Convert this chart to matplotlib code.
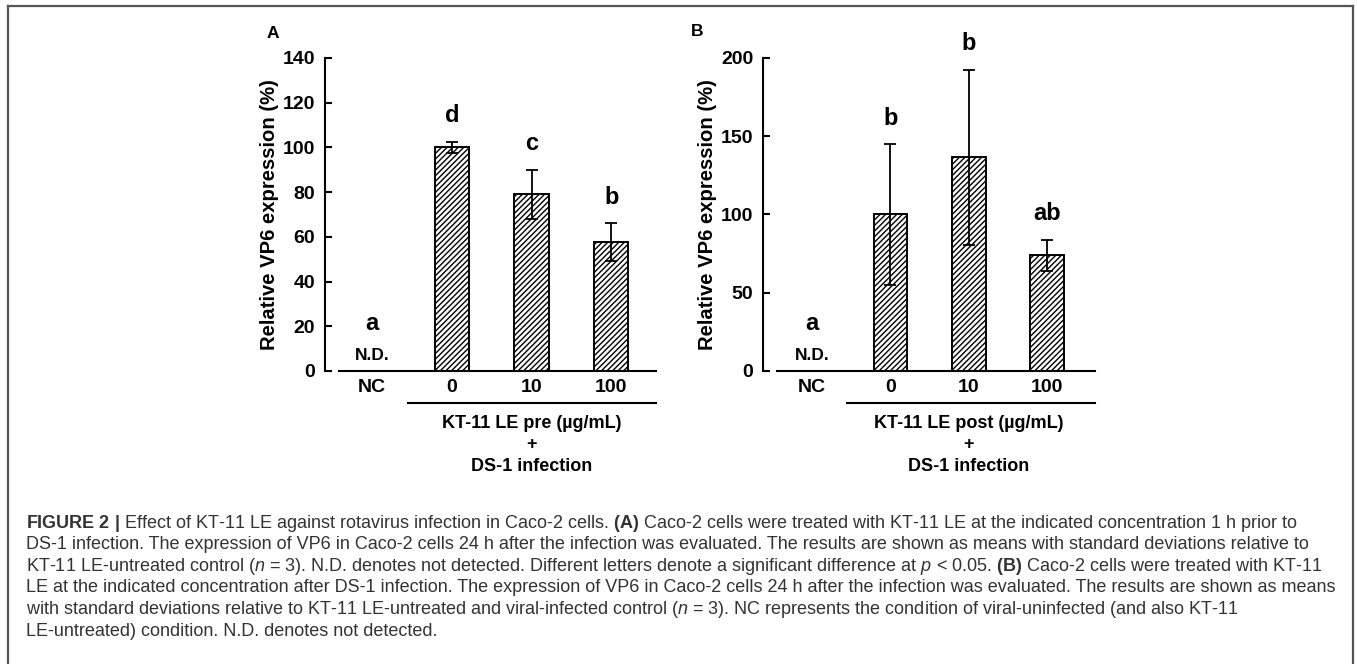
import matplotlib
matplotlib.use("Agg")
import matplotlib.pyplot as plt
from matplotlib.lines import Line2D
from matplotlib.transforms import blended_transform_factory
import numpy as np

plt.rcParams["font.family"] = ["Liberation Sans", "DejaVu Sans"]
plt.rcParams["mathtext.fontset"] = "custom"
plt.rcParams["mathtext.rm"] = "Liberation Sans"
plt.rcParams["mathtext.bf"] = "Liberation Sans:bold"
plt.rcParams["mathtext.it"] = "Liberation Sans:italic"
plt.rcParams["hatch.linewidth"] = 1.0

categories = ["NC", "0", "10", "100"]

# panel A: KT-11 LE before infection
pre_mean = [0, 100, 79, 57.5]
pre_sd = [0, 2.6, 11, 8.5]
pre_letters = ["a", "d", "c", "b"]

# panel B: KT-11 LE after infection
post_mean = [0, 100, 136.5, 74]
post_sd = [0, 45, 56, 10]
post_letters = ["a", "b", "b", "ab"]

caption_lines = [
    r"$\mathbf{FIGURE\ 2\ |}$ Effect of KT-11 LE against rotavirus infection in Caco-2 cells. "
    r"$\mathbf{(A)}$ Caco-2 cells were treated with KT-11 LE at the indicated concentration 1 h prior to",
    "DS-1 infection. The expression of VP6 in Caco-2 cells 24 h after the infection was evaluated. "
    "The results are shown as means with standard deviations relative to",
    r"KT-11 LE-untreated control ($\mathit{n}$ = 3). N.D. denotes not detected. Different letters "
    r"denote a significant difference at $\mathit{p}$ < 0.05. $\mathbf{(B)}$ Caco-2 cells were treated with KT-11",
    "LE at the indicated concentration after DS-1 infection. The expression of VP6 in Caco-2 cells "
    "24 h after the infection was evaluated. The results are shown as means",
    r"with standard deviations relative to KT-11 LE-untreated and viral-infected control ($\mathit{n}$ = 3). "
    "NC represents the condition of viral-uninfected (and also KT-11",
    "LE-untreated) condition. N.D. denotes not detected.",
]

W, H = 1357, 664
fig = plt.figure(figsize=(W / 100, H / 100), dpi=100)


def px_box(x0, x1, y_top, y_bot):
    return [x0 / W, 1 - y_bot / H, (x1 - x0) / W, (y_bot - y_top) / H]


def panel(box, means, sds, letters, ymax, ystep, xlim, xaxis_start, group_text, tag, tag_xy):
    ax = fig.add_axes(box)
    x = np.arange(len(categories))
    ax.bar(x[1:], means[1:], width=0.43, color="white", edgecolor="black",
           hatch="//////", linewidth=1.4, zorder=2)
    ax.errorbar(x[1:], means[1:], yerr=sds[1:], fmt="none", ecolor="black",
                elinewidth=1.3, capsize=4.5, capthick=1.3, zorder=3)
    ax.set_xlim(*xlim)
    ax.set_ylim(0, ymax)
    ax.set_yticks(np.arange(0, ymax + 1, ystep))
    ax.set_xticks(x)
    ax.set_xticklabels(categories)
    for s in ("top", "right"):
        ax.spines[s].set_visible(False)
    ax.spines["left"].set_linewidth(1.5)
    ax.spines["bottom"].set_linewidth(1.5)
    ax.spines["bottom"].set_bounds(xaxis_start, xlim[1])
    ax.tick_params(axis="y", direction="in", length=5, width=1.5, pad=7, labelsize=14)
    ax.tick_params(axis="x", length=0, pad=6, labelsize=14)
    for lbl in ax.get_xticklabels() + ax.get_yticklabels():
        lbl.set_fontweight("bold")
    ax.set_ylabel("Relative VP6 expression (%)", fontsize=14.6, fontweight="bold")
    ax.yaxis.set_label_coords(-0.14, 0.5)

    for xi, m, s, lab in zip(x, means, sds, letters):
        if m == 0:
            ax.annotate("N.D.", (xi, 0), xytext=(0, 8), textcoords="offset points",
                        ha="center", va="baseline", fontsize=12.5, fontweight="bold")
            ax.annotate(lab, (xi, 0), xytext=(0, 29.5), textcoords="offset points",
                        ha="center", va="baseline", fontsize=17, fontweight="bold")
        else:
            ax.annotate(lab, (xi, m + s), xytext=(0, 14), textcoords="offset points",
                        ha="center", va="baseline", fontsize=17, fontweight="bold")

    tr = blended_transform_factory(ax.transData, ax.transAxes)
    ax.add_line(Line2D([0.45, xlim[1]], [-0.103, -0.103], transform=tr,
                       color="black", linewidth=1.5, clip_on=False))
    ax.text(2, -0.235, group_text + "\n+\nDS-1 infection", transform=tr,
            ha="center", va="center", multialignment="center",
            fontsize=13, fontweight="bold", linespacing=1.35)
    fig.text(tag_xy[0] / W, 1 - tag_xy[1] / H, tag, ha="center", va="center",
             fontsize=12.5, fontweight="bold")
    return ax


panel(px_box(325, 656, 58, 371), pre_mean, pre_sd, pre_letters, 140, 20,
      (-0.59, 3.56), -0.42, "KT-11 LE pre (µg/mL)", "A", (273, 33))
panel(px_box(763, 1095, 58, 371), post_mean, post_sd, post_letters, 200, 50,
      (-0.626, 3.61), -0.447, "KT-11 LE post (µg/mL)", "B", (697, 32))

# frame of the figure page
frame_kw = dict(color="#555555", linewidth=1.6, transform=fig.transFigure)
fig.add_artist(Line2D([8 / W, 1353 / W], [1 - 6 / H, 1 - 6 / H], **frame_kw))
fig.add_artist(Line2D([8 / W, 8 / W], [1 - 6 / H, 0], **frame_kw))
fig.add_artist(Line2D([1353 / W, 1353 / W], [1 - 6 / H, 0], **frame_kw))

for i, line in enumerate(caption_lines):
    fig.text(26 / W, 1 - (527.5 + 21.6 * i) / H, line, ha="left", va="baseline",
             fontsize=13.0, color="#333333")

fig.savefig("out.png", dpi=100)
